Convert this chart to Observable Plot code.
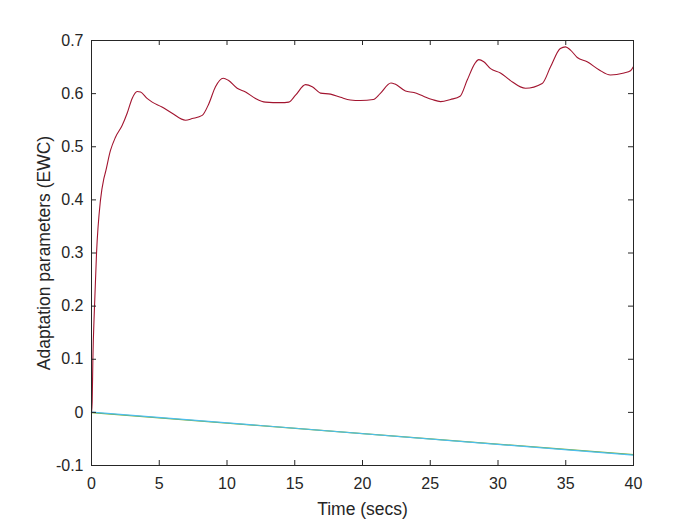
<!DOCTYPE html>
<html>
<head>
<meta charset="utf-8">
<script src="https://cdn.jsdelivr.net/npm/d3@7"></script>
<script src="https://cdn.jsdelivr.net/npm/@observablehq/plot@0.6"></script>
<style>
  html, body { margin: 0; padding: 0; background: #fff; }
  #chart { width: 700px; height: 525px; }
</style>
</head>
<body>
<div id="chart"></div>
<script>
// Series 1 (red): time and value
const redT = [0, 0.05, 0.1, 0.22, 0.37, 0.66, 0.91, 1.03, 1.4, 1.77, 2.26, 2.63, 3.0, 3.37, 3.62, 4.1, 4.48, 5.2, 5.95, 6.94, 7.43, 8.17, 8.66, 9.15, 9.72, 10.1, 10.75, 11.37, 12.1, 12.84, 13.95, 14.56, 15.06, 15.8, 16.29, 16.9, 17.64, 18.38, 19.1, 19.85, 20.8, 21.3, 22.1, 22.4, 23.17, 23.79, 24.5, 25.14, 25.76, 26.5, 27.2, 27.72, 28.3, 28.58, 28.95, 29.45, 30.18, 30.9, 32.03, 33.26, 33.87, 34.6, 34.98, 35.35, 35.85, 36.58, 37.45, 38.3, 39.3, 39.78, 40];
const redV = [0, 0.02, 0.098, 0.198, 0.299, 0.399, 0.44, 0.452, 0.493, 0.518, 0.540, 0.563, 0.591, 0.604, 0.603, 0.591, 0.584, 0.575, 0.563, 0.550, 0.553, 0.559, 0.581, 0.613, 0.629, 0.625, 0.610, 0.603, 0.591, 0.584, 0.583, 0.584, 0.597, 0.617, 0.613, 0.601, 0.599, 0.593, 0.588, 0.587, 0.589, 0.600, 0.620, 0.618, 0.605, 0.602, 0.595, 0.589, 0.585, 0.589, 0.595, 0.625, 0.657, 0.664, 0.660, 0.647, 0.639, 0.625, 0.610, 0.619, 0.650, 0.685, 0.688, 0.682, 0.668, 0.660, 0.645, 0.635, 0.639, 0.643, 0.651];
// Series 2 (green) and 3 (cyan): straight decline
const greenT = [0, 40];
const greenV = [-0.0005, -0.0795];
const cyanT = [0, 40];
const cyanV = [0.0005, -0.0805];
// Tick values
const xTicks = [0, 5, 10, 15, 20, 25, 30, 35, 40];
const yTicks = [-0.1, 0, 0.1, 0.2, 0.3, 0.4, 0.5, 0.6, 0.7];

const red = redT.map((t, i) => ({t, v: redV[i]}));
const green = greenT.map((t, i) => ({t, v: greenV[i]}));
const cyan = cyanT.map((t, i) => ({t, v: cyanV[i]}));

const ink = "#262626";
const frameW = 700 - 91 - 67;
const frameH = 525 - 40 - 60;
const tl = 5;

const chart = Plot.plot({
  width: 700,
  height: 525,
  marginLeft: 91,
  marginRight: 67,
  marginTop: 40,
  marginBottom: 60,
  style: { fontFamily: "'Liberation Sans', Arial, sans-serif", fontSize: "16px", color: ink, background: "#fff" },
  x: { domain: [0, 40] },
  y: { domain: [-0.1, 0.7] },
  marks: [
    Plot.line(green, {x: "t", y: "v", stroke: "#77AC30", strokeWidth: 1.2}),
    Plot.line(cyan, {x: "t", y: "v", stroke: "#4DBEEE", strokeWidth: 1.2}),
    Plot.line(red, {x: "t", y: "v", stroke: "#A2142F", strokeWidth: 1.1, curve: "monotone-x"}),
    Plot.frame({stroke: ink, strokeWidth: 1}),
    Plot.tickX(xTicks, {x: d => d, stroke: ink, insetTop: frameH - tl}),
    Plot.tickX(xTicks, {x: d => d, stroke: ink, insetBottom: frameH - tl}),
    Plot.tickY(yTicks, {y: d => d, stroke: ink, insetLeft: frameW - tl}),
    Plot.tickY(yTicks, {y: d => d, stroke: ink, insetRight: frameW - tl}),
    Plot.axisX(xTicks, {tickSize: 0, tickPadding: 12, fontSize: 16, fill: ink, label: null}),
    Plot.axisY(yTicks, {tickSize: 0, tickPadding: 8, fontSize: 16, fill: ink, label: null, tickFormat: d => String(+d.toFixed(1))}),
    Plot.text(["Time (secs)"], {frameAnchor: "bottom", textAnchor: "middle", lineAnchor: "middle", dy: 44, fontSize: 17.5, fill: ink}),
    Plot.text(["Adaptation parameters (EWC)"], {frameAnchor: "left", textAnchor: "middle", lineAnchor: "middle", dx: -47, rotate: -90, fontSize: 17.5, fill: ink})
  ]
});
document.getElementById("chart").appendChild(chart);
</script>
</body>
</html>
